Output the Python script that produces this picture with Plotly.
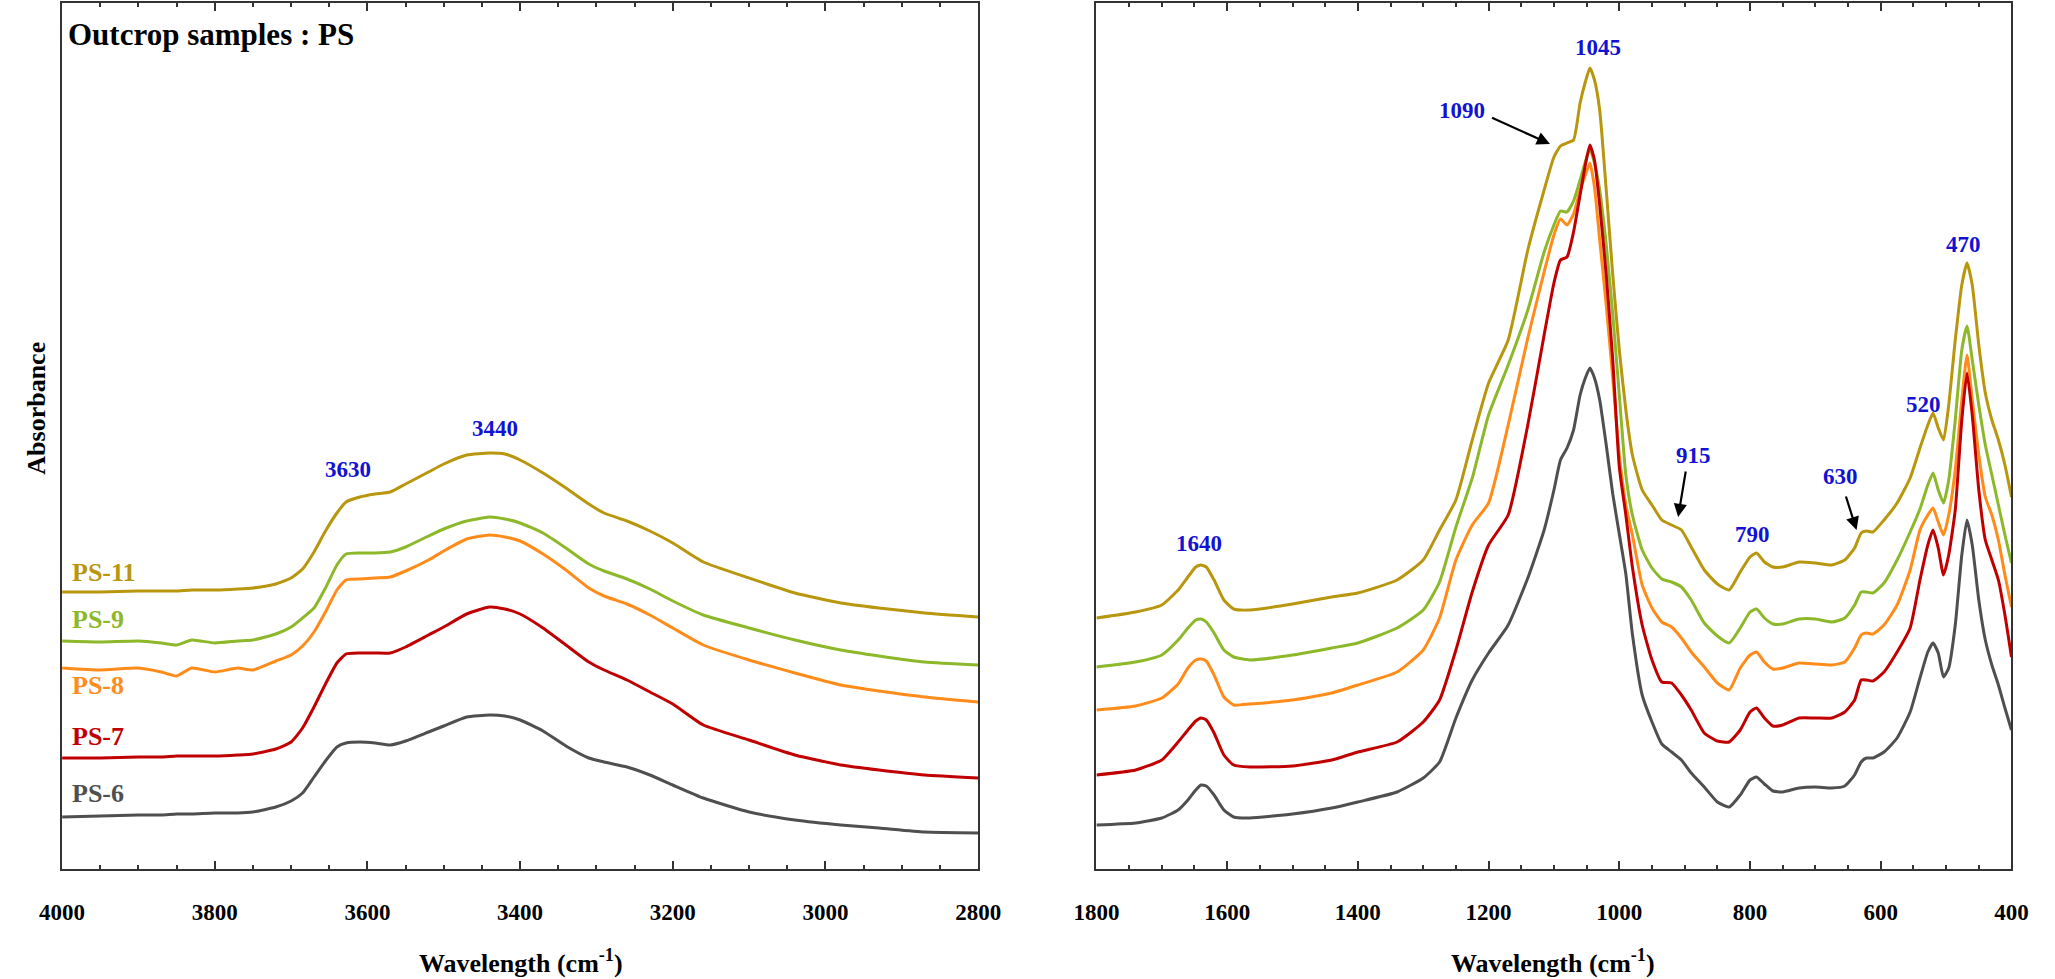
import plotly.graph_objects as go

FONT = "Liberation Serif"

SAMPLES = ["PS-6", "PS-7", "PS-8", "PS-9", "PS-11"]
COLORS = ["#4f4f4f", "#c00000", "#ff8c1a", "#8cb82a", "#b8960e"]

# ---------------- O-H stretching region (4000-2800 cm-1) ----------------
WN_HIGH = [4000, 3950, 3900, 3870, 3850, 3830, 3800, 3770, 3750, 3720,
           3700, 3685, 3670, 3655, 3640, 3628, 3610, 3590, 3570, 3550,
           3520, 3500, 3470, 3440, 3420, 3400, 3370, 3340, 3310, 3290,
           3260, 3230, 3200, 3160, 3100, 3040, 2980, 2930, 2870, 2800]

PS6_HIGH = [0.52, 0.53, 0.54, 0.54, 0.55, 0.55, 0.56, 0.56, 0.57, 0.62,
            0.68, 0.76, 0.92, 1.08, 1.22, 1.26, 1.27, 1.26, 1.24, 1.28,
            1.37, 1.43, 1.52, 1.54, 1.53, 1.49, 1.38, 1.23, 1.11, 1.07,
            1.02, 0.94, 0.84, 0.71, 0.57, 0.49, 0.44, 0.41, 0.37, 0.36]
PS7_HIGH = [1.11, 1.11, 1.12, 1.12, 1.13, 1.13, 1.13, 1.14, 1.15, 1.20,
            1.27, 1.41, 1.62, 1.85, 2.06, 2.15, 2.16, 2.16, 2.16, 2.22,
            2.34, 2.42, 2.55, 2.62, 2.60, 2.55, 2.41, 2.24, 2.07, 1.99,
            1.89, 1.77, 1.65, 1.44, 1.29, 1.14, 1.04, 0.99, 0.94, 0.91]
PS8_HIGH = [2.01, 1.99, 2.01, 1.97, 1.93, 2.01, 1.97, 2.01, 1.99, 2.08,
            2.14, 2.23, 2.37, 2.57, 2.79, 2.89, 2.90, 2.91, 2.92, 2.98,
            3.09, 3.18, 3.30, 3.34, 3.32, 3.28, 3.15, 2.99, 2.81, 2.73,
            2.65, 2.54, 2.41, 2.24, 2.09, 1.96, 1.84, 1.78, 1.72, 1.67]
PS9_HIGH = [2.28, 2.27, 2.28, 2.26, 2.24, 2.29, 2.26, 2.28, 2.29, 2.35,
            2.42, 2.51, 2.61, 2.81, 3.04, 3.15, 3.16, 3.16, 3.17, 3.22,
            3.33, 3.40, 3.48, 3.52, 3.50, 3.46, 3.36, 3.21, 3.05, 2.98,
            2.90, 2.80, 2.68, 2.54, 2.41, 2.29, 2.19, 2.13, 2.07, 2.04]
PS11_HIGH = [2.77, 2.77, 2.78, 2.78, 2.78, 2.79, 2.79, 2.80, 2.81, 2.85,
             2.91, 3.00, 3.17, 3.38, 3.56, 3.67, 3.72, 3.75, 3.77, 3.85,
             3.97, 4.05, 4.14, 4.16, 4.15, 4.09, 3.96, 3.81, 3.65, 3.56,
             3.48, 3.38, 3.26, 3.07, 2.91, 2.76, 2.66, 2.61, 2.56, 2.52]

# ---------------- fingerprint region (1800-400 cm-1) ----------------
WN_LOW = [1800, 1740, 1700, 1675, 1660, 1648, 1640, 1632, 1620, 1605,
          1590, 1565, 1500, 1440, 1400, 1340, 1300, 1275, 1250, 1225,
          1200, 1170, 1140, 1115, 1100, 1090, 1080, 1070, 1060, 1052,
          1045, 1038, 1030, 1020, 1010, 1000, 990, 980, 965, 950,
          935, 920, 905, 890, 870, 850, 832, 815, 800, 790,
          778, 765, 750, 725, 700, 675, 655, 640, 630, 622,
          612, 595, 575, 555, 540, 528, 520, 512, 504, 496,
          486, 476, 468, 460, 450, 440, 430, 420, 410, 400]

PS6_LOW = [0.44, 0.46, 0.51, 0.59, 0.69, 0.79, 0.84, 0.83, 0.74, 0.59,
           0.52, 0.51, 0.55, 0.61, 0.67, 0.77, 0.91, 1.07, 1.51, 1.89,
           2.16, 2.44, 2.91, 3.39, 3.79, 4.09, 4.21, 4.39, 4.74, 4.91,
           5.01, 4.91, 4.69, 4.24, 3.75, 3.35, 2.95, 2.35, 1.74, 1.47,
           1.25, 1.17, 1.09, 0.96, 0.82, 0.67, 0.62, 0.74, 0.89, 0.92,
           0.85, 0.78, 0.77, 0.81, 0.82, 0.81, 0.83, 0.94, 1.07, 1.11,
           1.11, 1.17, 1.31, 1.57, 1.91, 2.17, 2.26, 2.16, 1.92, 2.01,
           2.44, 3.14, 3.49, 3.24, 2.69, 2.29, 2.04, 1.84, 1.61, 1.39]
PS7_LOW = [0.94, 0.99, 1.09, 1.27, 1.39, 1.48, 1.51, 1.49, 1.36, 1.14,
           1.04, 1.02, 1.03, 1.09, 1.17, 1.27, 1.47, 1.69, 2.19, 2.77,
           3.24, 3.54, 4.44, 5.34, 5.86, 6.09, 6.12, 6.37, 6.74, 7.04,
           7.24, 7.09, 6.64, 5.94, 5.09, 4.02, 3.54, 3.02, 2.44, 2.09,
           1.87, 1.86, 1.74, 1.59, 1.36, 1.28, 1.27, 1.39, 1.57, 1.61,
           1.51, 1.43, 1.44, 1.51, 1.51, 1.51, 1.57, 1.69, 1.89, 1.89,
           1.88, 1.97, 2.17, 2.41, 2.89, 3.24, 3.39, 3.21, 2.94, 3.14,
           3.59, 4.49, 4.96, 4.54, 3.79, 3.29, 3.09, 2.89, 2.54, 2.12]
PS8_LOW = [1.59, 1.63, 1.71, 1.85, 2.01, 2.09, 2.10, 2.08, 1.94, 1.72,
           1.64, 1.65, 1.69, 1.76, 1.84, 1.97, 2.19, 2.51, 3.09, 3.44,
           3.66, 4.44, 5.31, 5.97, 6.34, 6.50, 6.44, 6.55, 6.79, 6.94,
           7.06, 6.82, 6.29, 5.64, 4.91, 4.14, 3.64, 3.34, 2.84, 2.61,
           2.47, 2.42, 2.31, 2.17, 2.02, 1.86, 1.79, 2.01, 2.14, 2.17,
           2.07, 2.00, 2.01, 2.06, 2.05, 2.04, 2.07, 2.21, 2.34, 2.36,
           2.35, 2.44, 2.64, 2.99, 3.39, 3.54, 3.61, 3.47, 3.34, 3.54,
           3.99, 4.69, 5.14, 4.69, 4.14, 3.72, 3.54, 3.29, 2.94, 2.62]
PS9_LOW = [2.02, 2.07, 2.14, 2.29, 2.41, 2.49, 2.50, 2.47, 2.36, 2.19,
           2.12, 2.09, 2.14, 2.21, 2.26, 2.41, 2.59, 2.87, 3.42, 3.91,
           4.54, 5.04, 5.59, 6.17, 6.44, 6.58, 6.57, 6.68, 6.89, 7.07,
           7.20, 7.06, 6.79, 6.24, 5.54, 4.74, 3.94, 3.54, 3.19, 3.01,
           2.90, 2.87, 2.82, 2.69, 2.46, 2.33, 2.26, 2.41, 2.57, 2.60,
           2.51, 2.45, 2.45, 2.50, 2.50, 2.47, 2.51, 2.64, 2.77, 2.77,
           2.76, 2.86, 3.09, 3.37, 3.60, 3.84, 3.96, 3.79, 3.66, 3.89,
           4.49, 5.19, 5.43, 5.09, 4.64, 4.24, 3.94, 3.64, 3.34, 3.06]
PS11_LOW = [2.51, 2.57, 2.64, 2.79, 2.92, 3.02, 3.04, 3.02, 2.89, 2.69,
            2.60, 2.59, 2.65, 2.72, 2.76, 2.89, 3.09, 3.39, 3.69, 4.29,
            4.86, 5.29, 6.19, 6.79, 7.12, 7.23, 7.26, 7.29, 7.66, 7.87,
            8.01, 7.89, 7.59, 6.79, 5.94, 5.19, 4.59, 4.14, 3.79, 3.64,
            3.49, 3.44, 3.39, 3.22, 2.99, 2.85, 2.79, 2.97, 3.12, 3.16,
            3.07, 3.02, 3.02, 3.07, 3.06, 3.04, 3.09, 3.21, 3.36, 3.38,
            3.37, 3.49, 3.66, 3.91, 4.21, 4.44, 4.56, 4.41, 4.29, 4.64,
            5.29, 5.84, 6.06, 5.84, 5.24, 4.76, 4.49, 4.29, 4.04, 3.72]

HIGH = [PS6_HIGH, PS7_HIGH, PS8_HIGH, PS9_HIGH, PS11_HIGH]
LOW = [PS6_LOW, PS7_LOW, PS8_LOW, PS9_LOW, PS11_LOW]

# sample label positions (left panel, wavenumber / absorbance)
LABEL_WN = 3990
LABEL_Y = [0.76, 1.33, 1.84, 2.50, 2.97]

# peak labels
PEAKS_HIGH = [("3630", 3626, 4.00), ("3440", 3433, 4.41)]
PEAKS_LOW = [("1045", 1033, 8.22), ("1090", 1241, 7.59), ("470", 473, 6.25),
             ("520", 535, 4.65), ("915", 886, 4.14), ("630", 662, 3.93),
             ("790", 796, 3.35), ("1640", 1643, 3.26)]
# arrows: (head wn, head A, tail wn, tail A)
ARROWS = [(1106, 7.25, 1197, 7.52), (910, 3.52, 898, 3.99), (637, 3.39, 654, 3.74)]

Y_RANGE = [0, 8.66]
BLUE = "#1212d2"
AX = "#333333"

fig = go.Figure()
order = [0, 3, 2, 1, 4]
for i in order:
    fig.add_trace(go.Scatter(x=WN_HIGH, y=HIGH[i], mode="lines", name=SAMPLES[i],
                             line=dict(color=COLORS[i], width=3, shape="spline", smoothing=0.5),
                             xaxis="x", yaxis="y", showlegend=False))
    fig.add_trace(go.Scatter(x=WN_LOW, y=LOW[i], mode="lines", name=SAMPLES[i],
                             line=dict(color=COLORS[i], width=3, shape="spline", smoothing=0.5),
                             xaxis="x2", yaxis="y2", showlegend=False))

xcommon = dict(ticks="inside", ticklen=8, tickwidth=1.5, tickcolor=AX,
               minor=dict(dtick=50, ticks="inside", ticklen=4, tickwidth=1.5, tickcolor=AX),
               showline=True, linecolor=AX, linewidth=1.5, mirror="ticks",
               showgrid=False, zeroline=False, dtick=200,
               tickfont=dict(family=FONT, size=23, color="black", weight="bold"),
               ticklabelstandoff=22)
ycommon = dict(range=Y_RANGE, showticklabels=False, ticks="", showline=True,
               linecolor=AX, linewidth=1.5, mirror=True, showgrid=False, zeroline=False,
               domain=[0, 1])

fig.update_layout(
    width=2055, height=979,
    margin=dict(l=0, r=0, t=3, b=110),
    paper_bgcolor="white", plot_bgcolor="white",
    xaxis=dict(domain=[40 / 2055, 977 / 2055], range=[4000, 2800], anchor="y", tick0=2800, **xcommon),
    xaxis2=dict(domain=[1098 / 2055, 2034 / 2055], range=[1800, 400], anchor="y2", tick0=400, **xcommon),
    yaxis=dict(anchor="x", **ycommon),
    yaxis2=dict(anchor="x2", **ycommon),
)

ann = []
for txt, px in [("Wavelength (cm<sup>-1</sup>)", 509 / 2055), ("Wavelength (cm<sup>-1</sup>)", 1565 / 2055)]:
    ann.append(dict(text=txt, x=px, y=(869 - 961) / 866, xref="paper", yref="paper",
                    xanchor="center", yanchor="middle", showarrow=False,
                    font=dict(family=FONT, size=26, color="black", weight="bold")))
ann.append(dict(text="Absorbance", x=13 / 2055, y=(869 - 408) / 866, xref="paper", yref="paper",
                textangle=-90, xanchor="center", yanchor="middle", showarrow=False,
                font=dict(family=FONT, size=26, color="black", weight="bold")))
ann.append(dict(text="Outcrop samples : PS", x=3995, y=8.35, xref="x", yref="y",
                xanchor="left", yanchor="middle", showarrow=False,
                font=dict(family=FONT, size=31, color="black", weight="bold")))
for i, s in enumerate(SAMPLES):
    ann.append(dict(text=s, x=LABEL_WN, y=LABEL_Y[i], xref="x", yref="y",
                    xanchor="left", yanchor="middle", showarrow=False,
                    font=dict(family=FONT, size=26, color=COLORS[i], weight="bold")))
for txt, wx, ay in PEAKS_HIGH:
    ann.append(dict(text=txt, x=wx, y=ay, xref="x", yref="y", showarrow=False,
                    xanchor="center", yanchor="middle",
                    font=dict(family=FONT, size=23, color=BLUE, weight="bold")))
for txt, wx, ay in PEAKS_LOW:
    ann.append(dict(text=txt, x=wx, y=ay, xref="x2", yref="y2", showarrow=False,
                    xanchor="center", yanchor="middle",
                    font=dict(family=FONT, size=23, color=BLUE, weight="bold")))
for hx, hy, tx, ty in ARROWS:
    ann.append(dict(text="", x=hx, y=hy, ax=tx, ay=ty, xref="x2", yref="y2",
                    axref="x2", ayref="y2", showarrow=True, arrowhead=2,
                    arrowsize=1.2, arrowwidth=2.2, arrowcolor="black"))
fig.update_layout(annotations=ann)

fig.write_html("out.html")
